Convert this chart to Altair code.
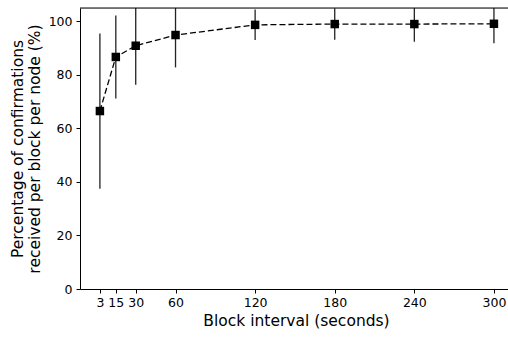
import altair as alt
import pandas as pd

block_interval = [3, 15, 30, 60, 120, 180, 240, 300]
mean_pct = [66.5, 86.7, 90.9, 94.9, 98.7, 99.0, 99.0, 99.1]
err_pct = [29.0, 15.5, 14.6, 12.1, 5.7, 5.9, 6.6, 7.3]
x_ticks = [3, 15, 30, 60, 120, 180, 240, 300]
y_ticks = [0, 20, 40, 60, 80, 100]

df = pd.DataFrame({
    "interval": block_interval,
    "mean": mean_pct,
    "lo": [m - e for m, e in zip(mean_pct, err_pct)],
    "hi": [m + e for m, e in zip(mean_pct, err_pct)],
})

FONT = "DejaVu Sans"

xscale = alt.Scale(domain=[-12, 310.6], nice=False, zero=False)
yscale = alt.Scale(domain=[0, 105], nice=False)

xaxis = alt.Axis(values=x_ticks, title="Block interval (seconds)", grid=False,
                 labelFont=FONT, labelFontSize=12.5, labelColor="black",
                 titleFont=FONT, titleFontSize=15.5, titleFontWeight="normal",
                 titleColor="black", tickColor="black", domainColor="black",
                 tickSize=4, labelPadding=3, titlePadding=5, titleX=216,
                 labelFlush=False)
yaxis = alt.Axis(values=y_ticks, title=["Percentage of confirmations", "received per block per node (%)"],
                 grid=False, labelFont=FONT, labelFontSize=12.5, labelColor="black",
                 titleFont=FONT, titleFontSize=15.5, titleFontWeight="normal",
                 titleColor="black", tickColor="black", domainColor="black",
                 tickSize=4, labelPadding=4, titlePadding=6, titleLineHeight=17)

base = alt.Chart(df)

errbars = base.mark_rule(color="#222222", strokeWidth=1.3, clip=True).encode(
    x=alt.X("interval:Q", scale=xscale, axis=xaxis),
    y=alt.Y("lo:Q", scale=yscale, axis=yaxis),
    y2="hi:Q",
)

line = base.mark_line(color="black", strokeWidth=1.3, strokeDash=[6, 3]).encode(
    x=alt.X("interval:Q", scale=xscale),
    y=alt.Y("mean:Q", scale=yscale),
)

points = base.mark_point(shape="square", filled=True, color="black", size=72, opacity=1).encode(
    x=alt.X("interval:Q", scale=xscale),
    y=alt.Y("mean:Q", scale=yscale),
)

top_spine = alt.Chart(pd.DataFrame({"k": [0]})).mark_rule(color="black", strokeWidth=1).encode(
    x=alt.value(0), x2=alt.value(428), y=alt.value(0)
)

chart = alt.layer(errbars, line, points, top_spine).properties(
    width=428, height=281,
    autosize=alt.AutoSizeParams(type="none"),
    padding={"left": 80, "top": 8, "right": 0, "bottom": 48},
).configure_view(stroke=None).configure(background="white")

chart.save("out.html", embed_options={"renderer": "svg", "actions": False})
